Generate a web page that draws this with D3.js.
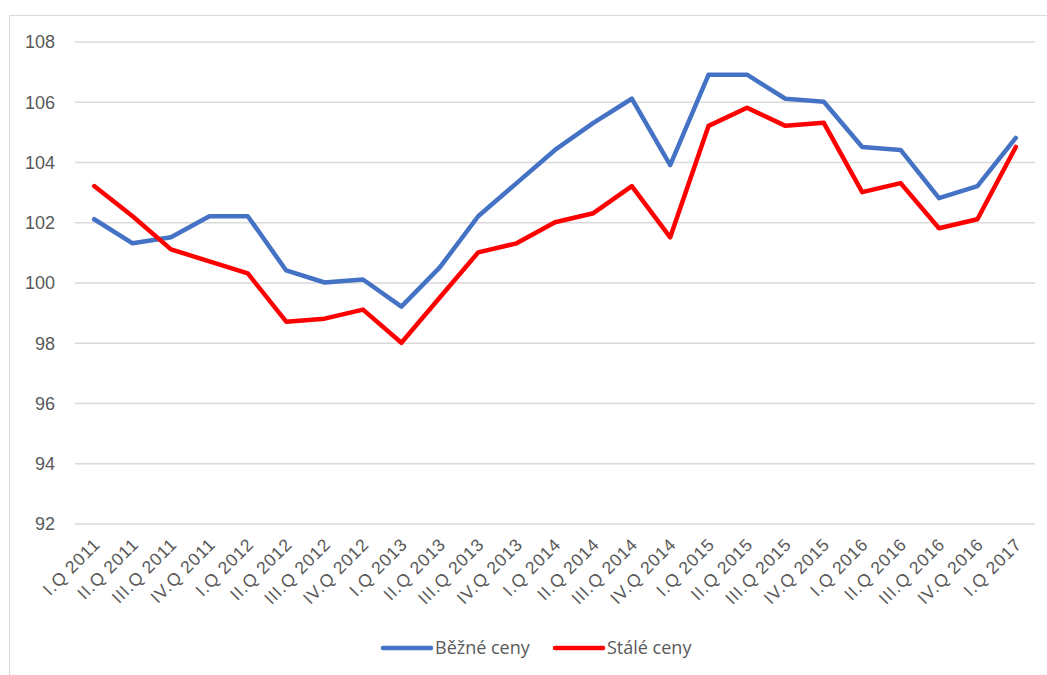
<!DOCTYPE html>
<html>
<head>
<meta charset="utf-8">
<script src="https://cdn.jsdelivr.net/npm/d3@7"></script>
<style>
  html, body { margin: 0; padding: 0; background: #fff; }
  svg { display: block; font-family: "Open Sans", "Noto Sans", sans-serif; }
</style>
</head>
<body>
<svg id="chart" width="1047" height="675"></svg>
<script>
const categories = [
  "I.Q 2011", "II.Q 2011", "III.Q 2011", "IV.Q 2011",
  "I.Q 2012", "II.Q 2012", "III.Q 2012", "IV.Q 2012",
  "I.Q 2013", "II.Q 2013", "III.Q 2013", "IV.Q 2013",
  "I.Q 2014", "II.Q 2014", "III.Q 2014", "IV.Q 2014",
  "I.Q 2015", "II.Q 2015", "III.Q 2015", "IV.Q 2015",
  "I.Q 2016", "II.Q 2016", "III.Q 2016", "IV.Q 2016",
  "I.Q 2017"
];
const bezneCeny = [
  102.1, 101.3, 101.5, 102.2,
  102.2, 100.4, 100.0, 100.1,
  99.2, 100.5, 102.2, 103.3,
  104.4, 105.3, 106.1, 103.9,
  106.9, 106.9, 106.1, 106.0,
  104.5, 104.4, 102.8, 103.2,
  104.8
];
const staleCeny = [
  103.2, 102.2, 101.1, 100.7,
  100.3, 98.7, 98.8, 99.1,
  98.0, 99.5, 101.0, 101.3,
  102.0, 102.3, 103.2, 101.5,
  105.2, 105.8, 105.2, 105.3,
  103.0, 103.3, 101.8, 102.1,
  104.5
];
const yTicks = [92, 94, 96, 98, 100, 102, 104, 106, 108];
const seriesNames = ["Běžné ceny", "Stálé ceny"];
const seriesColors = ["#4472C4", "#FF0000"];

const svg = d3.select("#chart");
const plot = { left: 75, right: 1035, top: 41.5, bottom: 523.5 };
const textColor = "#595959";

// outer chart border
svg.append("rect")
  .attr("x", 9.5).attr("y", 15.5)
  .attr("width", 1100).attr("height", 700)
  .attr("fill", "none").attr("stroke", "#D9D9D9").attr("stroke-width", 1);

const x = d3.scaleBand().domain(categories).range([plot.left, plot.right]).padding(0);
const y = d3.scaleLinear().domain([92, 108]).range([plot.bottom, plot.top]);
const cx = d => x(d) + x.bandwidth() / 2;

// gridlines + y labels
const yAxis = d3.axisLeft(y).tickValues(yTicks).tickSize(-(plot.right - plot.left)).tickPadding(20).tickFormat(d3.format("d"));
const gy = svg.append("g").attr("transform", `translate(${plot.left},0)`).call(yAxis);
gy.select(".domain").remove();
gy.selectAll(".tick line").attr("stroke", "#D9D9D9").attr("stroke-width", 1.3);
gy.selectAll(".tick text").attr("fill", textColor).attr("font-size", 18).attr("x", -20).attr("dy", "0.35em");

// x labels
const xAxis = d3.axisBottom(x).tickSize(0).tickPadding(0);
const gx = svg.append("g").attr("transform", `translate(0,${plot.bottom})`).call(xAxis);
gx.select(".domain").remove();
gx.selectAll(".tick text")
  .attr("fill", textColor).attr("font-size", 17.5)
  .attr("letter-spacing", "0.8px")
  .attr("text-anchor", "end")
  .attr("y", 0).attr("dy", 0)
  .attr("transform", "translate(7,22) rotate(-45)");

// lines
const line = d3.line().x((d, i) => cx(categories[i])).y(d => y(d));
[bezneCeny, staleCeny].forEach((s, k) => {
  svg.append("path").datum(s)
    .attr("d", line)
    .attr("fill", "none")
    .attr("stroke", seriesColors[k])
    .attr("stroke-width", 4.5)
    .attr("stroke-linejoin", "round")
    .attr("stroke-linecap", "round");
});

// legend
const legendItems = [{ x: 383 }, { x: 555 }];
legendItems.forEach((it, k) => {
  const g = svg.append("g").attr("transform", `translate(${it.x},648)`);
  g.append("line").attr("x1", 0).attr("x2", 48).attr("y1", 0).attr("y2", 0)
    .attr("stroke", seriesColors[k]).attr("stroke-width", 4.5).attr("stroke-linecap", "round");
  g.append("text").attr("x", 52).attr("y", 0).attr("dy", "0.35em")
    .attr("fill", textColor).attr("font-size", 18).text(seriesNames[k]);
});
</script>
</body>
</html>
